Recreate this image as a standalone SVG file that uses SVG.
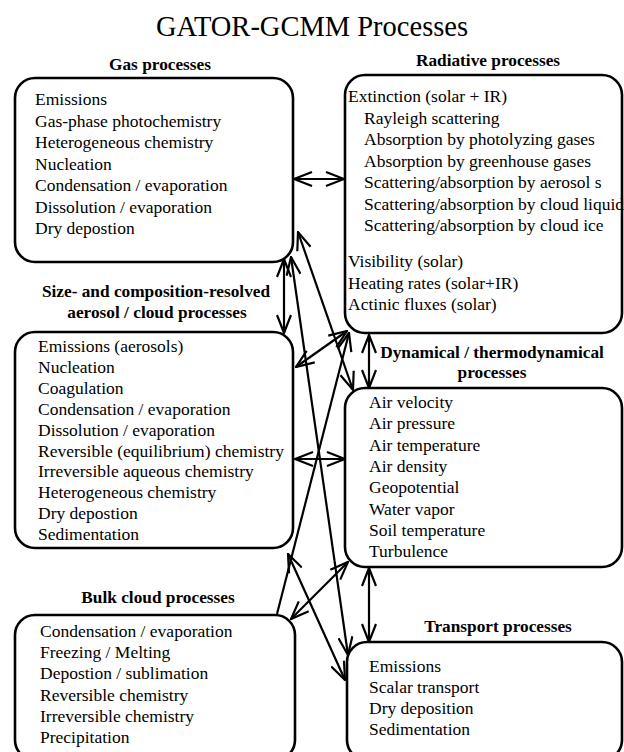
<svg xmlns="http://www.w3.org/2000/svg" width="624" height="752" viewBox="0 0 624 752">
<defs>
<style>
.box{fill:none;stroke:#000;stroke-width:2.6}
.t{font-family:"Liberation Serif","Times New Roman",serif;font-size:17.5px;fill:#000}
.h{font-family:"Liberation Serif","Times New Roman",serif;font-size:17.3px;font-weight:bold;fill:#000;text-anchor:middle}
.title{font-family:"Liberation Serif","Times New Roman",serif;font-size:28.5px;fill:#000;text-anchor:middle}
.c{fill:none;stroke:#000;stroke-width:2.2}
.d{marker-start:url(#ah);marker-end:url(#ah)}
.s{marker-end:url(#ah)}
</style>
<marker id="ah" viewBox="0 0 20 16" refX="19" refY="8" markerWidth="20" markerHeight="16" markerUnits="userSpaceOnUse" orient="auto-start-reverse">
<path d="M1,1 L19,8 L1,15" fill="none" stroke="#000" stroke-width="2.2"/>
</marker>
</defs>
<rect width="624" height="752" fill="#fff"/>
<text class="title" x="312" y="36">GATOR-GCMM Processes</text>

<g id="gas">
<text class="h" x="160" y="70">Gas processes</text>
<rect class="box" x="15" y="78" width="278" height="184" rx="20"/>
<text class="t" x="35" y="105">Emissions</text>
<text class="t" x="35" y="126.5">Gas-phase photochemistry</text>
<text class="t" x="35" y="148">Heterogeneous chemistry</text>
<text class="t" x="35" y="169.5">Nucleation</text>
<text class="t" x="35" y="191">Condensation / evaporation</text>
<text class="t" x="35" y="212.5">Dissolution / evaporation</text>
<text class="t" x="35" y="234">Dry depostion</text>
</g>

<g id="radiative">
<text class="h" x="488" y="66">Radiative processes</text>
<rect class="box" x="345" y="75" width="277" height="258" rx="20"/>
<text class="t" x="348" y="102">Extinction (solar + IR)</text>
<text class="t" x="364" y="123.5">Rayleigh scattering</text>
<text class="t" x="364" y="145">Absorption by photolyzing gases</text>
<text class="t" x="364" y="166.5">Absorption by greenhouse gases</text>
<text class="t" x="364" y="188">Scattering/absorption by aerosol s</text>
<text class="t" x="364" y="209.5">Scattering/absorption by cloud liquid</text>
<text class="t" x="364" y="231">Scattering/absorption by cloud ice</text>
<text class="t" x="348" y="267">Visibility (solar)</text>
<text class="t" x="348" y="288.5">Heating rates (solar+IR)</text>
<text class="t" x="348" y="310">Actinic fluxes (solar)</text>
</g>

<g id="aerosol">
<text class="h" x="156" y="297">Size- and composition-resolved</text>
<text class="h" x="157" y="318">aerosol / cloud processes</text>
<rect class="box" x="15" y="332" width="278" height="216" rx="20"/>
<text class="t" x="38" y="352">Emissions (aerosols)</text>
<text class="t" x="38" y="372.9">Nucleation</text>
<text class="t" x="38" y="393.8">Coagulation</text>
<text class="t" x="38" y="414.7">Condensation / evaporation</text>
<text class="t" x="38" y="435.6">Dissolution / evaporation</text>
<text class="t" x="38" y="456.5">Reversible (equilibrium) chemistry</text>
<text class="t" x="38" y="477.4">Irreversible aqueous chemistry</text>
<text class="t" x="38" y="498.3">Heterogeneous chemistry</text>
<text class="t" x="38" y="519.2">Dry depostion</text>
<text class="t" x="38" y="540">Sedimentation</text>
</g>

<g id="dynamical">
<text class="h" x="492" y="358">Dynamical / thermodynamical</text>
<text class="h" x="492" y="378">processes</text>
<rect class="box" x="345" y="388" width="277" height="179" rx="20"/>
<text class="t" x="369" y="408">Air velocity</text>
<text class="t" x="369" y="429.3">Air pressure</text>
<text class="t" x="369" y="450.6">Air temperature</text>
<text class="t" x="369" y="471.9">Air density</text>
<text class="t" x="369" y="493.2">Geopotential</text>
<text class="t" x="369" y="514.5">Water vapor</text>
<text class="t" x="369" y="535.8">Soil temperature</text>
<text class="t" x="369" y="557">Turbulence</text>
</g>

<g id="bulk">
<text class="h" x="158" y="603">Bulk cloud processes</text>
<rect class="box" x="15" y="615" width="280" height="145" rx="20"/>
<text class="t" x="40" y="637">Condensation / evaporation</text>
<text class="t" x="40" y="658.2">Freezing / Melting</text>
<text class="t" x="40" y="679.4">Depostion / sublimation</text>
<text class="t" x="40" y="700.6">Reversible chemistry</text>
<text class="t" x="40" y="721.8">Irreversible chemistry</text>
<text class="t" x="40" y="743">Precipitation</text>
</g>

<g id="transport">
<text class="h" x="498" y="632">Transport processes</text>
<rect class="box" x="347" y="642" width="275" height="118" rx="20"/>
<text class="t" x="369" y="672">Emissions</text>
<text class="t" x="369" y="693">Scalar transport</text>
<text class="t" x="369" y="714">Dry deposition</text>
<text class="t" x="369" y="735">Sedimentation</text>
</g>

<g id="connectors">
<line class="c d" x1="294" y1="179" x2="344" y2="179"/>
<line class="c d" x1="284" y1="259" x2="284" y2="333"/>
<line class="c d" x1="295" y1="459" x2="345" y2="459"/>
<line class="c d" x1="369" y1="335" x2="369" y2="388"/>
<line class="c d" x1="369" y1="568" x2="369" y2="642"/>
<line class="c d" x1="296" y1="367" x2="347" y2="331"/>
<line class="c d" x1="298" y1="232" x2="353" y2="390"/>
<line class="c d" x1="291" y1="257" x2="348" y2="655"/>
<line class="c s" x1="277" y1="614" x2="349" y2="333"/>
<line class="c d" x1="288" y1="554" x2="345" y2="680"/>
<line class="c d" x1="291" y1="619" x2="348" y2="562"/>
</g>
</svg>
